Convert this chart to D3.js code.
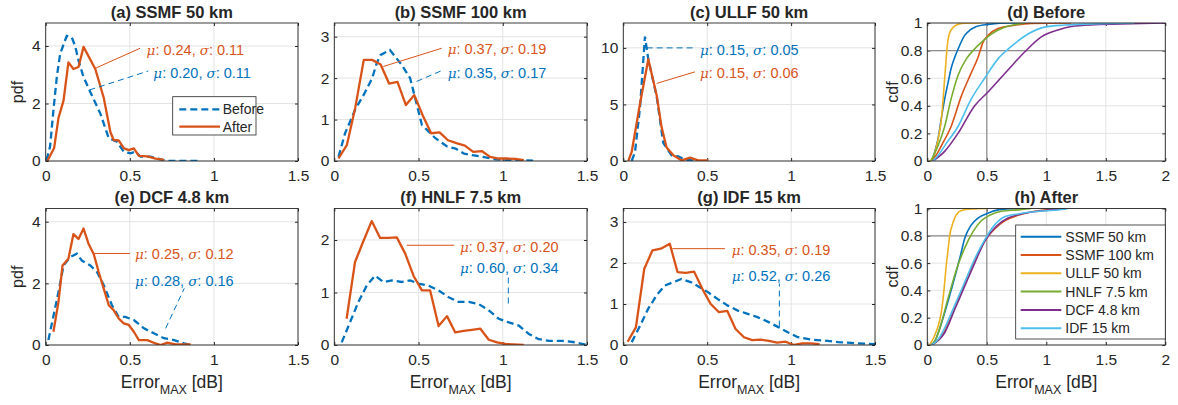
<!DOCTYPE html>
<html>
<head>
<meta charset="utf-8">
<script src="https://cdn.jsdelivr.net/npm/d3@7"></script>
<style>
  body { margin: 0; background: #fff; }
  svg text { font-family: "Liberation Sans", Arial, sans-serif; fill: #262626; }
</style>
</head>
<body>
<svg id="chart" width="1178" height="405"></svg>
<script>
var BLUE = '#0072BD', ORANGE = '#D95319', YELLOW = '#EDB120',
    PURPLE = '#7E2F8E', GREEN = '#77AC30', CYAN = '#4DBEEE';

// ---- data ----
var pdfXTicks = [0, 0.5, 1, 1.5];
var cdfXTicks = [0, 0.5, 1, 1.5, 2];
var cdfYTicks = [0, 0.2, 0.4, 0.6, 0.8, 1];

var pdfTitles = ['(a) SSMF 50 km', '(b) SSMF 100 km', '(c) ULLF 50 km',
                 '(e) DCF 4.8 km', '(f) HNLF 7.5 km', '(g) IDF 15 km'];
var cdfTitles = ['(d) Before', '(h) After'];
var pdfLegend = ['Before', 'After'];
var cdfLegend = ['SSMF 50 km', 'SSMF 100 km', 'ULLF 50 km', 'HNLF 7.5 km', 'DCF 4.8 km', 'IDF 15 km'];

var muBefore    = [0.20, 0.35, 0.15, 0.28, 0.60, 0.52];
var sigmaBefore = [0.11, 0.17, 0.05, 0.16, 0.34, 0.26];
var muAfter     = [0.24, 0.37, 0.15, 0.25, 0.37, 0.35];
var sigmaAfter  = [0.11, 0.19, 0.06, 0.12, 0.20, 0.19];

var ssmf50PdfBefore = [[0.005,0.03],[0.026,0.5],[0.046,1.77],[0.066,2.92],[0.086,3.73],[0.125,4.35],[0.155,4.3],[0.175,4.0],[0.195,3.5],[0.225,2.92],[0.265,2.4],[0.325,1.65],[0.375,0.79],[0.424,0.67],[0.464,0.32],[0.504,0.27],[0.534,0.32],[0.564,0.15],[0.623,0.15],[0.683,0.06],[0.72,0],[0.92,0]];
var ssmf50PdfAfter = [[0.01,0],[0.05,0.45],[0.076,1.5],[0.106,2.1],[0.135,3.43],[0.165,3.2],[0.195,3.27],[0.225,3.97],[0.295,3.2],[0.345,2.2],[0.385,1.0],[0.404,0.73],[0.434,0.72],[0.464,0.45],[0.494,0.38],[0.524,0.44],[0.554,0.18],[0.604,0.16],[0.653,0.08],[0.703,0.04]];

var ssmf100PdfBefore = [[0.025,0.1],[0.064,0.67],[0.125,1.25],[0.175,1.6],[0.225,2.0],[0.252,2.36],[0.275,2.56],[0.33,2.68],[0.4,2.32],[0.45,2.0],[0.52,0.87],[0.6,0.55],[0.67,0.35],[0.72,0.3],[0.77,0.18],[0.82,0.14],[0.88,0.1],[0.96,0.04],[1.04,0.02],[1.18,0.01]];
var ssmf100PdfAfter = [[0.025,0.06],[0.075,0.39],[0.125,1.3],[0.175,2.44],[0.225,2.44],[0.275,2.33],[0.325,1.87],[0.375,1.91],[0.425,1.35],[0.475,1.59],[0.525,1.1],[0.575,0.67],[0.625,0.69],[0.675,0.5],[0.725,0.43],[0.775,0.37],[0.825,0.22],[0.875,0.24],[0.925,0.1],[0.975,0.06],[1.025,0.06],[1.075,0.05],[1.125,0.02]];

var ullfPdfBefore = [[0.05,0],[0.07,0.8],[0.1,4.8],[0.129,11.0],[0.149,9.0],[0.199,5.7],[0.238,1.6],[0.288,0.5],[0.328,0.4],[0.368,0.1],[0.42,0.05]];
var ullfPdfAfter = [[0.03,0],[0.05,0.8],[0.1,5.1],[0.149,9.0],[0.199,5.8],[0.228,3.0],[0.258,1.2],[0.298,0.5],[0.348,0.05],[0.397,0.3],[0.447,0.05],[0.507,0.05]];

var dcfPdfBefore = [[0.016,0.16],[0.076,1.72],[0.106,2.58],[0.145,2.85],[0.185,2.96],[0.215,2.74],[0.265,2.58],[0.305,2.37],[0.345,1.94],[0.394,1.29],[0.434,0.91],[0.474,0.91],[0.524,0.81],[0.584,0.54],[0.643,0.38],[0.703,0.22],[0.763,0.16],[0.823,0.05],[0.862,0]];
var dcfPdfAfter = [[0.046,0.43],[0.076,1.4],[0.1,2.58],[0.135,2.8],[0.165,3.6],[0.195,3.44],[0.225,3.78],[0.255,3.28],[0.285,2.96],[0.315,2.37],[0.345,1.83],[0.375,1.29],[0.404,1.13],[0.434,0.86],[0.464,0.7],[0.494,0.65],[0.524,0.43],[0.554,0.16],[0.604,0.16],[0.653,0.05],[0.683,0],[0.723,0.08],[0.773,0.02],[0.823,0.02],[0.862,0.02]];

var hnlfPdfBefore = [[0.044,0.05],[0.093,0.43],[0.143,0.82],[0.192,1.13],[0.242,1.32],[0.292,1.2],[0.341,1.23],[0.4,1.2],[0.45,1.23],[0.5,1.17],[0.56,1.13],[0.619,1.04],[0.679,0.91],[0.738,0.82],[0.798,0.82],[0.857,0.78],[0.917,0.66],[0.976,0.5],[1.036,0.43],[1.095,0.37],[1.155,0.21],[1.214,0.11],[1.274,0.08],[1.353,0.08],[1.433,0.05],[1.5,0]];
var hnlfPdfAfter = [[0.073,0.5],[0.123,1.58],[0.173,1.98],[0.222,2.36],[0.272,2.04],[0.321,2.04],[0.371,2.05],[0.421,1.74],[0.47,1.32],[0.52,1.04],[0.569,1.04],[0.619,0.36],[0.669,0.55],[0.718,0.24],[0.768,0.27],[0.817,0.29],[0.867,0.31],[0.917,0.1],[0.966,0.05],[1.016,0.02],[1.125,0]];

var idfPdfBefore = [[0.05,0.07],[0.1,0.47],[0.148,0.88],[0.198,1.21],[0.247,1.45],[0.297,1.53],[0.346,1.61],[0.405,1.53],[0.455,1.41],[0.504,1.29],[0.563,1.12],[0.623,0.96],[0.682,0.84],[0.741,0.76],[0.8,0.68],[0.86,0.57],[0.927,0.43],[0.98,0.31],[1.04,0.19],[1.12,0.13],[1.2,0.11],[1.28,0.07],[1.36,0.05],[1.5,0.02]];
var idfPdfAfter = [[0.026,0.08],[0.075,0.43],[0.125,1.86],[0.174,2.31],[0.224,2.35],[0.277,2.47],[0.323,1.78],[0.372,1.76],[0.422,1.79],[0.471,1.37],[0.521,1.0],[0.57,0.8],[0.62,0.83],[0.669,0.39],[0.719,0.19],[0.768,0.12],[0.818,0.13],[0.868,0.1],[0.917,0.06],[0.967,0.08],[1.017,0],[1.066,0.04],[1.12,0.04],[1.17,0.02]];

// cdf curves, in legend order
var ssmf50CdfBefore = [[0.034,0],[0.06,0.06],[0.09,0.16],[0.12,0.32],[0.146,0.45],[0.175,0.57],[0.2,0.67],[0.23,0.75],[0.258,0.81],[0.314,0.91],[0.36,0.95],[0.4,0.97],[0.51,0.99],[0.7,1],[0.9,1]];
var ssmf100CdfBefore = [[0.034,0],[0.08,0.05],[0.118,0.11],[0.2,0.25],[0.286,0.47],[0.37,0.64],[0.426,0.75],[0.468,0.86],[0.51,0.91],[0.594,0.96],[0.706,0.98],[0.874,0.997],[1.21,1]];
var ullfCdfBefore = [[0.02,0],[0.05,0.03],[0.076,0.1],[0.1,0.2],[0.118,0.3],[0.135,0.47],[0.146,0.6],[0.157,0.72],[0.165,0.81],[0.188,0.93],[0.215,0.965],[0.244,0.985],[0.31,0.998],[0.45,1]];
var hnlfCdfBefore = [[0.034,0],[0.06,0.05],[0.09,0.11],[0.146,0.25],[0.2,0.45],[0.258,0.62],[0.328,0.74],[0.384,0.8],[0.454,0.86],[0.538,0.92],[0.65,0.97],[0.75,0.99],[0.82,1]];
var dcfCdfBefore = [[0.048,0],[0.146,0.07],[0.258,0.2],[0.398,0.4],[0.51,0.5],[0.678,0.66],[0.818,0.79],[0.958,0.9],[1.098,0.95],[1.21,0.975],[1.406,0.988],[1.714,0.995],[2.0,1]];
var idfCdfBefore = [[0.048,0],[0.1,0.05],[0.146,0.11],[0.258,0.25],[0.37,0.45],[0.482,0.6],[0.594,0.74],[0.706,0.83],[0.846,0.92],[0.986,0.97],[1.154,0.985],[1.378,0.993],[1.742,1]];

var ssmf50CdfAfter = [[0.034,0],[0.07,0.04],[0.104,0.12],[0.174,0.32],[0.244,0.54],[0.28,0.66],[0.314,0.78],[0.37,0.88],[0.426,0.93],[0.496,0.96],[0.594,0.99],[0.76,1]];
var ssmf100CdfAfter = [[0.034,0],[0.1,0.04],[0.146,0.1],[0.23,0.27],[0.314,0.44],[0.398,0.61],[0.482,0.76],[0.566,0.85],[0.65,0.91],[0.762,0.95],[0.902,0.98],[1.042,0.995],[1.154,1]];
var ullfCdfAfter = [[0.02,0],[0.076,0.1],[0.118,0.24],[0.14,0.4],[0.16,0.59],[0.175,0.7],[0.188,0.8],[0.21,0.88],[0.23,0.93],[0.286,0.985],[0.37,0.996],[0.51,1]];
var hnlfCdfAfter = [[0.034,0],[0.07,0.04],[0.104,0.12],[0.174,0.34],[0.244,0.55],[0.314,0.71],[0.384,0.83],[0.454,0.91],[0.524,0.95],[0.622,0.98],[0.762,0.99],[0.874,1]];
var dcfCdfAfter = [[0.034,0],[0.1,0.04],[0.146,0.09],[0.23,0.26],[0.314,0.43],[0.398,0.6],[0.482,0.76],[0.58,0.87],[0.678,0.93],[0.79,0.96],[0.93,0.98],[1.098,0.995],[1.15,1]];
var idfCdfAfter = [[0.034,0],[0.09,0.04],[0.132,0.1],[0.23,0.29],[0.314,0.46],[0.398,0.63],[0.482,0.77],[0.566,0.88],[0.65,0.94],[0.762,0.96],[0.93,0.98],[1.154,0.995],[1.18,1]];

var cdfColors = [BLUE, ORANGE, YELLOW, GREEN, PURPLE, CYAN];

// ---- layout ----
var colX = [45.7, 334.3, 623.3, 927.3];
var colW = [252.3, 252.7, 251.7, 238];
var rowTop = [23, 208.5];
var rowBot = [161, 345];

var svg = d3.select('#chart');

var pdfPanels = [
  { col: 0, row: 0, yMax: 4.8, yTicks: [0, 2, 4], before: ssmf50PdfBefore, after: ssmf50PdfAfter, ylabel: true,
    legend: true,
    annA: { from: [0.293, 3.22], to: [0.561, 3.92], at: [0.60, 3.88] },
    annB: { from: [0.26, 2.47], to: [0.61, 3.13], at: [0.64, 3.07] } },
  { col: 1, row: 0, yMax: 3.33, yTicks: [0, 1, 2, 3], before: ssmf100PdfBefore, after: ssmf100PdfAfter,
    annA: { from: [0.291, 2.28], to: [0.637, 2.72], at: [0.673, 2.70] },
    annB: { from: [0.489, 1.92], to: [0.637, 2.18], at: [0.673, 2.13] } },
  { col: 2, row: 0, yMax: 12.2, yTicks: [0, 5, 10], before: ullfPdfBefore, after: ullfPdfAfter,
    annA: { from: [0.199, 6.86], to: [0.427, 7.88], at: [0.457, 7.79] },
    annB: { from: [0.139, 10], to: [0.437, 10], at: [0.457, 9.86] } },
  { col: 0, row: 1, yMax: 4.43, yTicks: [0, 2, 4], before: dcfPdfBefore, after: dcfPdfAfter, ylabel: true, xlabel: true,
    annA: { from: [0.289, 2.97], to: [0.501, 2.97], at: [0.531, 2.94] },
    annB: { from: [0.713, 0.54], to: [0.824, 1.84], at: [0.531, 2.07] } },
  { col: 1, row: 1, yMax: 2.6, yTicks: [0, 1, 2], before: hnlfPdfBefore, after: hnlfPdfAfter, xlabel: true,
    annA: { from: [0.43, 1.90], to: [0.712, 1.90], at: [0.746, 1.87] },
    annB: { from: [1.033, 0.79], to: [1.033, 1.30], at: [0.746, 1.46] } },
  { col: 2, row: 1, yMax: 3.33, yTicks: [0, 1, 2, 3], before: idfPdfBefore, after: idfPdfAfter, xlabel: true,
    annA: { from: [0.292, 2.35], to: [0.606, 2.35], at: [0.646, 2.31] },
    annB: { from: [0.93, 0.45], to: [0.93, 1.5], at: [0.646, 1.69] } }
];

var cdfPanels = [
  { col: 3, row: 0, series: [ssmf50CdfBefore, ssmf100CdfBefore, ullfCdfBefore, hnlfCdfBefore, dcfCdfBefore, idfCdfBefore] },
  { col: 3, row: 1, series: [ssmf50CdfAfter, ssmf100CdfAfter, ullfCdfAfter, hnlfCdfAfter, dcfCdfAfter, idfCdfAfter], legend: true, xlabel: true }
];


function makeAxes(p, xMax, yMax, xTicks, yTicks, title, idx) {
  var x0 = colX[p.col], w = colW[p.col];
  var top = rowTop[p.row], bot = rowBot[p.row];
  var x = d3.scaleLinear().domain([0, xMax]).range([x0, x0 + w]);
  var y = d3.scaleLinear().domain([0, yMax]).range([bot, top]);

  var g = svg.append('g');

  g.append('clipPath').attr('id', 'clip' + idx)
    .append('rect').attr('x', x0).attr('y', top).attr('width', w).attr('height', bot - top);

  // grid
  g.selectAll('.gx').data(xTicks).enter().append('line')
    .attr('x1', function (d) { return x(d); }).attr('x2', function (d) { return x(d); })
    .attr('y1', top).attr('y2', bot)
    .attr('stroke', '#e3e3e3').attr('stroke-width', 1);
  g.selectAll('.gy').data(yTicks).enter().append('line')
    .attr('x1', x0).attr('x2', x0 + w)
    .attr('y1', function (d) { return y(d); }).attr('y2', function (d) { return y(d); })
    .attr('stroke', '#e3e3e3').attr('stroke-width', 1);

  // axes via d3, inward ticks, labels outside
  var xAxis = d3.axisBottom(x).tickValues(xTicks).tickSize(-3).tickPadding(9)
    .tickFormat(function (d) { return d3.format('')(d); });
  var yAxis = d3.axisLeft(y).tickValues(yTicks).tickSize(-3).tickPadding(5)
    .tickFormat(function (d) { return d3.format('')(d); });

  var gx = g.append('g').attr('transform', 'translate(0,' + bot + ')').call(xAxis);
  var gy = g.append('g').attr('transform', 'translate(' + x0 + ',0)').call(yAxis);
  [gx, gy].forEach(function (a) {
    a.select('.domain').remove();
    a.selectAll('line').attr('stroke', '#262626');
    a.selectAll('text').style('font-size', '15.5px').attr('fill', '#262626');
  });
  // mirrored ticks on top and right
  g.append('g').attr('transform', 'translate(0,' + top + ')')
    .call(d3.axisTop(x).tickValues(xTicks).tickSize(-3).tickFormat(''))
    .call(function (a) { a.select('.domain').remove(); a.selectAll('line').attr('stroke', '#262626'); });
  g.append('g').attr('transform', 'translate(' + (x0 + w) + ',0)')
    .call(d3.axisRight(y).tickValues(yTicks).tickSize(-3).tickFormat(''))
    .call(function (a) { a.select('.domain').remove(); a.selectAll('line').attr('stroke', '#262626'); });

  g.append('text')
    .attr('x', x0 + w / 2).attr('y', top - 5.5)
    .attr('text-anchor', 'middle')
    .style('font-size', '16.5px').style('font-weight', 'bold')
    .attr('fill', '#000')
    .text(title);

  if (p.xlabel) {
    var t = g.append('text')
      .attr('x', x0 + w / 2).attr('y', bot + 42.5)
      .attr('text-anchor', 'middle')
      .style('font-size', '17.5px');
    t.append('tspan').text('Error');
    t.append('tspan').attr('dy', 6).style('font-size', '12.5px').text('MAX');
    t.append('tspan').attr('dy', -6).text(' [dB]');
  }

  return { g: g, x: x, y: y, x0: x0, w: w, top: top, bot: bot };
}

function drawBox(ax) {
  ax.g.append('rect')
    .attr('x', ax.x0).attr('y', ax.top).attr('width', ax.w).attr('height', ax.bot - ax.top)
    .attr('fill', 'none').attr('stroke', '#262626').attr('stroke-width', 0.9);
}

function statText(g, x, y, color, mu, sigma) {
  var t = g.append('text')
    .attr('x', x).attr('y', y).attr('dy', '0.35em')
    .style('font-size', '14.5px').attr('fill', color).style('fill', color);
  t.append('tspan').style('font-style', 'italic').style('font-family', '"DejaVu Serif", serif').style('font-size', '13.5px').text('\u03bc');
  t.append('tspan').text(': ' + mu.toFixed(2) + ', ');
  t.append('tspan').style('font-style', 'italic').style('font-family', '"DejaVu Serif", serif').style('font-size', '13.5px').text('\u03c3');
  t.append('tspan').text(': ' + sigma.toFixed(2));
}


// ---- pdf panels ----
pdfPanels.forEach(function (p, i) {
  var ax = makeAxes(p, 1.5, p.yMax, pdfXTicks, p.yTicks, pdfTitles[i], i);
  var line = d3.line()
    .x(function (d) { return ax.x(d[0]); })
    .y(function (d) { return ax.y(d[1]); });

  var curves = ax.g.append('g').attr('clip-path', 'url(#clip' + i + ')');
  curves.append('path').datum(p.before)
    .attr('d', line).attr('fill', 'none')
    .attr('stroke', BLUE).attr('stroke-width', 2.3).attr('stroke-dasharray', '7,4');
  curves.append('path').datum(p.after)
    .attr('d', line).attr('fill', 'none')
    .attr('stroke', ORANGE).attr('stroke-width', 2.3).attr('stroke-linejoin', 'round');

  // leader lines + stats
  var a = p.annA, b = p.annB;
  ax.g.append('line')
    .attr('x1', ax.x(a.from[0])).attr('y1', ax.y(a.from[1]))
    .attr('x2', ax.x(a.to[0])).attr('y2', ax.y(a.to[1]))
    .attr('stroke', ORANGE).attr('stroke-width', 1);
  ax.g.append('line')
    .attr('x1', ax.x(b.from[0])).attr('y1', ax.y(b.from[1]))
    .attr('x2', ax.x(b.to[0])).attr('y2', ax.y(b.to[1]))
    .attr('stroke', BLUE).attr('stroke-width', 1).attr('stroke-dasharray', '6,4');
  statText(ax.g, ax.x(a.at[0]), ax.y(a.at[1]), ORANGE, muAfter[i], sigmaAfter[i]);
  statText(ax.g, ax.x(b.at[0]), ax.y(b.at[1]), BLUE, muBefore[i], sigmaBefore[i]);

  drawBox(ax);

  if (p.ylabel) {
    ax.g.append('text')
      .attr('transform', 'translate(' + (ax.x0 - 22.5) + ',' + ((ax.top + ax.bot) / 2) + ') rotate(-90)')
      .attr('text-anchor', 'middle')
      .style('font-size', '16px')
      .text('pdf');
  }

  if (p.legend) {
    var lx = ax.x0 + 127, ly = ax.top + 73.7;
    var lg = ax.g.append('g');
    lg.append('rect').attr('x', lx).attr('y', ly).attr('width', 83.3).attr('height', 38.3)
      .attr('fill', '#fff').attr('stroke', '#262626').attr('stroke-width', 0.8);
    [BLUE, ORANGE].forEach(function (c, k) {
      var yy = ly + 12.6 + k * 17.4;
      lg.append('line').attr('x1', lx + 6.6).attr('x2', lx + 47.3).attr('y1', yy).attr('y2', yy)
        .attr('stroke', c).attr('stroke-width', 2.3).attr('stroke-dasharray', k === 0 ? '7,4' : null);
      lg.append('text').attr('x', lx + 50).attr('y', yy).attr('dy', '0.35em')
        .style('font-size', '14px').text(pdfLegend[k]);
    });
  }
});


// ---- cdf panels ----
cdfPanels.forEach(function (p, i) {
  var ax = makeAxes(p, 2, 1, cdfXTicks, cdfYTicks, cdfTitles[i], 6 + i);

  // darker reference lines at x=0.5 and cdf=0.8
  ax.g.append('line').attr('x1', ax.x(0.5)).attr('x2', ax.x(0.5)).attr('y1', ax.top).attr('y2', ax.bot)
    .attr('stroke', '#8c8c8c').attr('stroke-width', 1.2);
  ax.g.append('line').attr('x1', ax.x0).attr('x2', ax.x0 + ax.w).attr('y1', ax.y(0.8)).attr('y2', ax.y(0.8))
    .attr('stroke', '#8c8c8c').attr('stroke-width', 1.2);

  var line = d3.line()
    .curve(d3.curveMonotoneX)
    .x(function (d) { return ax.x(d[0]); })
    .y(function (d) { return ax.y(d[1]); });

  var curves = ax.g.append('g').attr('clip-path', 'url(#clip' + (6 + i) + ')');
  p.series.forEach(function (s, k) {
    curves.append('path').datum(s)
      .attr('d', line).attr('fill', 'none')
      .attr('stroke', cdfColors[k]).attr('stroke-width', 1.6);
  });

  drawBox(ax);

  ax.g.append('text')
    .attr('transform', 'translate(' + (ax.x0 - 29) + ',' + ((ax.top + ax.bot) / 2) + ') rotate(-90)')
    .attr('text-anchor', 'middle')
    .style('font-size', '16px')
    .text('cdf');

  if (p.legend) {
    var lx = ax.x0 + 88.4, ly = ax.top + 16.5;
    var lg = ax.g.append('g');
    lg.append('rect').attr('x', lx).attr('y', ly).attr('width', 149.6).attr('height', 114)
      .attr('fill', '#fff').attr('stroke', '#262626').attr('stroke-width', 0.8);
    cdfLegend.forEach(function (name, k) {
      var yy = ly + 11.7 + k * 18.3;
      lg.append('line').attr('x1', lx + 5).attr('x2', lx + 45.6).attr('y1', yy).attr('y2', yy)
        .attr('stroke', cdfColors[k]).attr('stroke-width', 2);
      lg.append('text').attr('x', lx + 49.6).attr('y', yy).attr('dy', '0.35em')
        .style('font-size', '14px').text(name);
    });
  }
});
</script>
</body>
</html>
